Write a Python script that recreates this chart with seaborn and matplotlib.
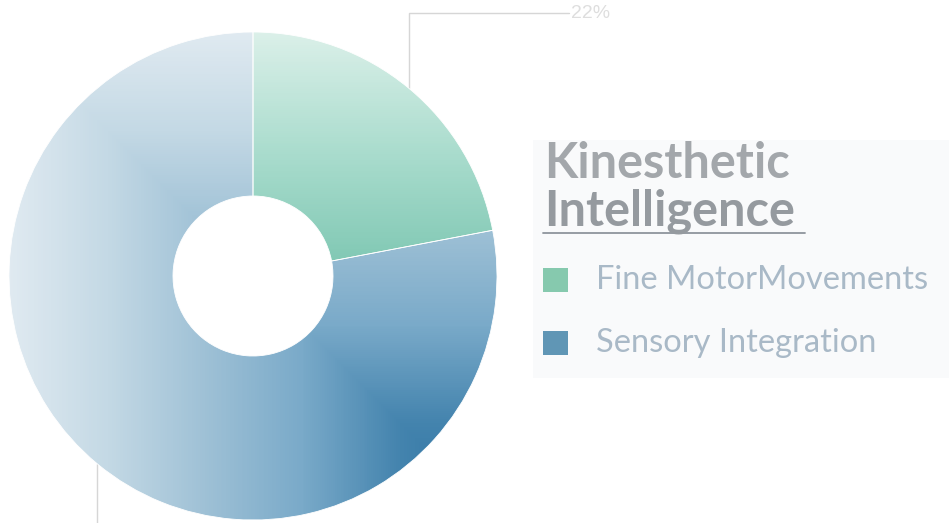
import numpy as np
import matplotlib.pyplot as plt
import seaborn as sns
from matplotlib.patches import Rectangle

# data
categories = ['Fine MotorMovements', 'Sensory Integration']
values = [22, 78]
legend_title = ['Kinesthetic', 'Intelligence']

# colours
swatch_colors = ['#86c9ae', '#6096b5']
gradient_stops = [
    ['#dbf0e9', '#a9dccd', '#7cc6b1', '#55b69a', '#3aa88a'],
    ['#e0eaf1', '#c4d9e5', '#9fc1d6', '#7aaac9', '#4484ae', '#2c71a2'],
]

W, H = 949, 523
cx, cy = 253, 247
r_out, r_in = 244, 80

sns.set_theme(style='white')
plt.rcParams['font.family'] = ['Lato', 'DejaVu Sans']

fig = plt.figure(figsize=(W / 100, H / 100), dpi=100)
ax = fig.add_axes([0, 0, 1, 1])

wedges, _ = ax.pie(values, startangle=90, counterclock=False, center=(cx, cy),
                   radius=r_out,
                   wedgeprops=dict(width=r_out - r_in, facecolor='none',
                                   edgecolor='white', linewidth=0.6))

# gradient fill: min of a left->right and a top->bottom ramp over the ring
xs = np.arange(W) + 0.5
ys = np.arange(H) + 0.5
tx = (xs - (cx - r_out)) / (2 * r_out)
ty = (ys - (H - cy - r_out)) / (2 * r_out)
t = np.clip(np.minimum(tx[None, :], ty[:, None]), 0, 1)
for w, stops in zip(wedges, gradient_stops):
    cmap = sns.blend_palette(stops, as_cmap=True)
    im = ax.imshow(cmap(t), extent=(0, W, 0, H), origin='upper', zorder=1,
                   interpolation='bilinear')
    im.set_clip_path(w)
    w.set_zorder(2)

# leader lines + percentage labels
mid = 90 - 360 * (np.cumsum(values) - np.array(values) / 2) / sum(values)
for ang, v in zip(mid, values):
    a = np.deg2rad(ang)
    x0, y0 = cx + r_out * np.cos(a), cy + r_out * np.sin(a)
    ye = cy + np.sign(np.sin(a)) * 263
    xe = x0 + np.sign(np.cos(a)) * 160
    ax.plot([x0, x0, xe], [y0, ye, ye], color='#d6d6d6', lw=1, zorder=0)
    if 0 <= ye <= H:
        ax.text(xe + 2, ye, f'{v}%', ha='left', va='center', fontsize=14,
                color='#dedede', family='Liberation Sans')

# legend panel
ax.add_patch(Rectangle((533, 145), W - 533, 238, facecolor='#f9fafb',
                       edgecolor='none', zorder=0))
ax.text(544, 345, legend_title[0], fontsize=35, fontweight='bold',
        color='#a3a7ab', va='baseline', ha='left')
ax.text(544, 298, legend_title[1], fontsize=35, fontweight='bold',
        color='#959a9f', va='baseline', ha='left')
ax.plot([543, 805], [290, 290], color='#8e959c', lw=1.3)

for i, (name, col) in enumerate(zip(categories, swatch_colors)):
    yc = 243 - i * 63
    ax.add_patch(Rectangle((543, yc - 12), 25, 24, facecolor=col,
                           edgecolor='none', zorder=3))
    ax.text(596, yc, name, fontsize=23.5, color='#a9b9c7', va='center',
            ha='left')

ax.set_xlim(0, W)
ax.set_ylim(0, H)
ax.axis('off')

fig.savefig('out.png', dpi=100)
